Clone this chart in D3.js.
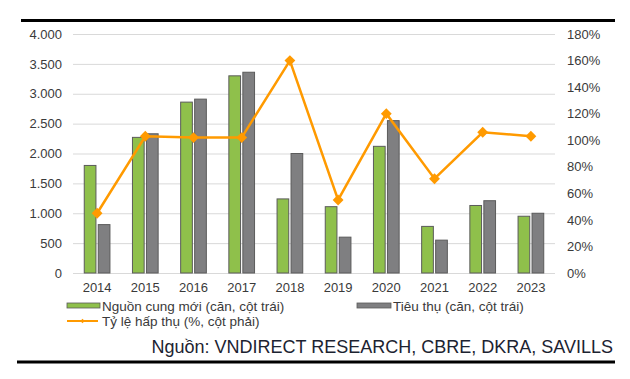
<!DOCTYPE html>
<html>
<head>
<meta charset="utf-8">
<script src="https://cdn.jsdelivr.net/npm/d3@7"></script>
<style>
  body { margin: 0; background: #fff; }
  text { font-family: "Liberation Sans", Arial, sans-serif; }
</style>
</head>
<body>
<div id="chart"></div>
<script>
// data
const years = ["2014", "2015", "2016", "2017", "2018", "2019", "2020", "2021", "2022", "2023"];
const supply = [1800, 2270, 2860, 3300, 1240, 1110, 2120, 780, 1130, 950];   // Nguồn cung mới
const sold = [810, 2330, 2910, 3360, 2000, 600, 2550, 550, 1210, 1000];      // Tiêu thụ
const absorption = [45, 103, 102, 102, 160, 55, 120, 71, 106, 103];          // Tỷ lệ hấp thụ (%)
const leftTicks = [0, 500, 1000, 1500, 2000, 2500, 3000, 3500, 4000];
const leftTickLabels = ["0", "500", "1.000", "1.500", "2.000", "2.500", "3.000", "3.500", "4.000"];
const rightTicks = [0, 20, 40, 60, 80, 100, 120, 140, 160, 180];
const seriesNames = ["Nguồn cung mới (căn, cột trái)", "Tiêu thụ (căn, cột trái)", "Tỷ lệ hấp thụ (%, cột phải)"];
const sourceText = "Nguồn: VNDIRECT RESEARCH, CBRE, DKRA, SAVILLS";

const width = 630, height = 379;
const plot = {left: 73, right: 555, top: 34, bottom: 273};

const green = "#8fc04b", grey = "#7f7f81", orange = "#ff9a00", outline = "#5b5b5b";

const svg = d3.select("#chart")
  .append("svg")
  .attr("width", width)
  .attr("height", height);

// scales
const x0 = d3.scaleBand()
  .domain(years)
  .range([plot.left, plot.right])
  .paddingInner(0.467)
  .paddingOuter(0.2335);

const x1 = d3.scaleBand()
  .domain(["supply", "sold"])
  .range([0, x0.bandwidth()])
  .paddingInner(0.164);

const y = d3.scaleLinear().domain([0, 4000]).range([plot.bottom, plot.top]);
const y2 = d3.scaleLinear().domain([0, 180]).range([plot.bottom, plot.top]);

// frame lines top and bottom
svg.append("line")
  .attr("x1", 21).attr("x2", 615).attr("y1", 20.5).attr("y2", 20.5)
  .attr("stroke", "#000").attr("stroke-width", 3);
svg.append("line")
  .attr("x1", 17).attr("x2", 615).attr("y1", 362).attr("y2", 362)
  .attr("stroke", "#000").attr("stroke-width", 3);

// gridlines
svg.append("g")
  .attr("transform", `translate(${plot.left},0)`)
  .call(d3.axisRight(y).tickValues(leftTicks).tickSize(plot.right - plot.left).tickFormat(""))
  .call(g => g.select(".domain").remove())
  .call(g => g.selectAll("line").attr("stroke", "#d9d9d9").attr("stroke-width", 1));

// left axis
svg.append("g")
  .attr("transform", `translate(${plot.left},0)`)
  .call(d3.axisLeft(y).tickValues(leftTicks).tickSize(0).tickPadding(11)
    .tickFormat((d, i) => leftTickLabels[i]))
  .call(g => g.select(".domain").remove())
  .call(g => g.selectAll("text")
    .attr("fill", "#3a3a3a").style("font-size", "13px"));

// right axis
svg.append("g")
  .attr("transform", `translate(${plot.right},0)`)
  .call(d3.axisRight(y2).tickValues(rightTicks).tickSize(0).tickPadding(12)
    .tickFormat(d => d + "%"))
  .call(g => g.select(".domain").remove())
  .call(g => g.selectAll("text")
    .attr("fill", "#3a3a3a").style("font-size", "13px"));

// x axis
svg.append("g")
  .attr("transform", `translate(0,${plot.bottom})`)
  .call(d3.axisBottom(x0).tickSize(0).tickPadding(10))
  .call(g => g.select(".domain").remove())
  .call(g => g.selectAll("text")
    .attr("fill", "#3a3a3a").style("font-size", "13px"));

// bars
const groups = svg.selectAll(".yr")
  .data(years)
  .join("g")
  .attr("transform", d => `translate(${x0(d)},0)`);

groups.append("rect")
  .attr("x", x1("supply"))
  .attr("y", (d, i) => y(supply[i]))
  .attr("width", x1.bandwidth())
  .attr("height", (d, i) => y(0) - y(supply[i]))
  .attr("fill", green)
  .attr("stroke", outline)
  .attr("stroke-width", 1);

groups.append("rect")
  .attr("x", x1("sold"))
  .attr("y", (d, i) => y(sold[i]))
  .attr("width", x1.bandwidth())
  .attr("height", (d, i) => y(0) - y(sold[i]))
  .attr("fill", grey)
  .attr("stroke", outline)
  .attr("stroke-width", 1);

// absorption line
const cx = d => x0(d) + x0.bandwidth() / 2;
const line = d3.line()
  .x((d, i) => cx(years[i]))
  .y(d => y2(d));

svg.append("path")
  .datum(absorption)
  .attr("d", line)
  .attr("fill", "none")
  .attr("stroke", orange)
  .attr("stroke-width", 2.5);

const diamond = d3.symbol().type(d3.symbolDiamond2).size(75);
svg.selectAll(".mk")
  .data(absorption)
  .join("path")
  .attr("d", diamond)
  .attr("transform", (d, i) => `translate(${cx(years[i])},${y2(d)})`)
  .attr("fill", orange);

// legend
const lg = svg.append("g");
lg.append("rect").attr("x", 67).attr("y", 303).attr("width", 33).attr("height", 5)
  .attr("fill", green).attr("stroke", outline).attr("stroke-width", 0.8);
lg.append("text").attr("x", 102).attr("y", 306).attr("dy", "0.35em")
  .attr("fill", "#3a3a3a").style("font-size", "13.5px").text(seriesNames[0]);

lg.append("rect").attr("x", 357).attr("y", 303).attr("width", 34).attr("height", 5)
  .attr("fill", grey).attr("stroke", outline).attr("stroke-width", 0.8);
lg.append("text").attr("x", 393).attr("y", 306).attr("dy", "0.35em")
  .attr("fill", "#3a3a3a").style("font-size", "13.5px").text(seriesNames[1]);

lg.append("line").attr("x1", 67).attr("x2", 98).attr("y1", 321).attr("y2", 321)
  .attr("stroke", orange).attr("stroke-width", 2);
lg.append("path").attr("d", d3.symbol().type(d3.symbolDiamond2).size(12))
  .attr("transform", "translate(82.5,321)").attr("fill", orange);
lg.append("text").attr("x", 102).attr("y", 321).attr("dy", "0.35em")
  .attr("fill", "#3a3a3a").style("font-size", "13.5px").text(seriesNames[2]);

// source
svg.append("text")
  .attr("x", 613).attr("y", 347).attr("dy", "0.35em")
  .attr("text-anchor", "end")
  .attr("fill", "#1c2331")
  .style("font-size", "18px")
  .text(sourceText);
</script>
</body>
</html>
